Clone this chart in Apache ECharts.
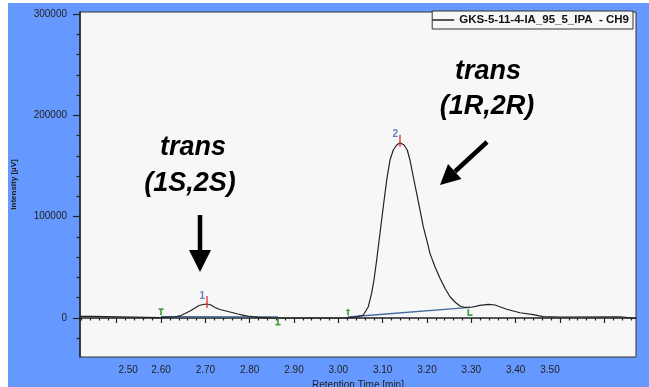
<!DOCTYPE html>
<html><head><meta charset="utf-8">
<script src="https://cdn.jsdelivr.net/npm/echarts@6/dist/echarts.min.js"></script>
<style>
html,body{margin:0;padding:0;background:#fff;}
#bg{position:absolute;left:8px;top:3px;width:641px;height:384px;background:#6699ff;}
#c{position:absolute;left:0;top:0;width:649px;height:387px;}
</style></head><body><div id="bg"></div><div id="c"></div>
<script>
// ---- data ----
const seriesName = 'GKS-5-11-4-IA_95_5_IPA  - CH9';
const retentionTime = [2.4172,2.4443,2.4465,2.5977,2.6315,2.6428,2.6541,2.6654,2.6766,2.6857,2.6947,2.7037,2.7127,2.7217,2.7330,2.7466,2.7601,2.7736,2.7872,2.8007,2.8187,2.8458,2.8909,2.9586,3.0150,3.0376,3.0450,3.0563,3.0676,3.0752,3.0804,3.0865,3.0940,3.1014,3.1091,3.1165,3.1240,3.1316,3.1391,3.1481,3.1555,3.1616,3.1691,3.1767,3.1842,3.1916,3.1993,3.2067,3.2180,3.2293,3.2406,3.2519,3.2631,3.2744,3.2857,3.3008,3.3195,3.3383,3.3534,3.3798,3.4098,3.4398,3.4623,3.5000,3.6353,3.6392,3.6715];
const intensity = [1500,1500,0,400,1200,2000,4400,6900,9900,12300,13300,13800,12800,10400,8400,6900,5400,3900,2500,1500,700,200,0,0,200,800,1300,3000,11150,24700,37500,57200,83900,109800,136200,155900,165800,170700,173000,170700,165800,155900,139400,123100,106600,90100,77000,63800,50600,39200,29300,21000,15800,11800,10400,10600,12500,13500,12800,8600,5200,3300,1300,1000,1200,-300,-300];
const baseline1Time = [2.6000, 2.8639];
const baseline1Value = [1300, 1100];
const baseline2Time = [3.0218, 3.2970];
const baseline2Value = [1000, 10400];
const markerTime = [2.6000, 2.8639, 3.0218, 3.2970];
const markerValue = [1300, 1100, 1000, 10400];
const markerKind = ['start', 'end', 'start2', 'end2'];
const peakTime = [2.7037, 3.1391];
const peakValue = [13800, 173000];
const peakLabel = ['1', '2'];
const xTickLabels = [2.50,2.60,2.70,2.80,2.90,3.00,3.10,3.20,3.30,3.40,3.50];
const xMajorTicks = [2.50,2.60,2.70,2.80,2.90,3.00,3.10,3.20,3.30,3.40,3.50,3.60];
const xMinorTicks = [2.42,2.44,2.46,2.48,2.52,2.54,2.56,2.58,2.62,2.64,2.66,2.68,2.72,2.74,2.76,2.78,2.82,2.84,2.86,2.88,2.92,2.94,2.96,2.98,3.02,3.04,3.06,3.08,3.12,3.14,3.16,3.18,3.22,3.24,3.26,3.28,3.32,3.34,3.36,3.38,3.42,3.44,3.46,3.48,3.52,3.54,3.56,3.58,3.62,3.64,3.66];
const yTickLabels = [0,100000,200000,300000];
const yMinorTicks = [-20000,20000,40000,60000,80000,120000,140000,160000,180000,220000,240000,260000,280000];

// ---- chart ----
const FONT = 'Liberation Sans';
const chart = echarts.init(document.getElementById('c'), null, {renderer:'canvas'});
const pair = (a, b) => a.map((t, i) => [t, b[i]]);
const symbolFor = {
  start: {symbol:'path://M0,0H6V2H4V8H2V2H0Z', offset:[0,-5]},
  end: {symbol:'path://M2,0H4V6H6V8H0V6H2Z', offset:[0,5]},
  start2: {symbol:'path://M3,0L6,3H4V8H2V3H0Z', offset:[0,-5]},
  end2: {symbol:'path://M0,0H2V6H6V8H0Z', offset:[0,5]}
};
const xMin = 2.4172, xMax = 3.6715, yMin = -38500, yMax = 302000;
const commonX = {type:'value', min:xMin, max:xMax, gridIndex:0, position:'bottom', splitLine:{show:false}};
const commonY = {type:'value', min:yMin, max:yMax, gridIndex:0, position:'left', splitLine:{show:false}};
const lbl = {fontFamily:FONT, fontSize:10, color:'#222'};

chart.setOption({
  animation:false,
  backgroundColor:'transparent',
  grid:{left:80, right:13, top:12, bottom:30, show:true, backgroundColor:'#f7f7f7', borderColor:'#333', borderWidth:1,
        containLabel:false, outerBoundsMode:'none'},
  legend:{
    data:[seriesName], right:16, top:11, backgroundColor:'#f7f7f7', borderColor:'#333', borderWidth:1,
    padding:[3,4,3,0], itemWidth:22, itemHeight:1.5, icon:'rect', itemGap:0,
    textStyle:{fontFamily:FONT, fontSize:11.5, fontWeight:'bold', color:'#111'}
  },
  xAxis:[
    Object.assign({}, commonX, {
      name:'Retention Time [min]', nameLocation:'middle', nameGap:20,
      nameTextStyle:{fontFamily:FONT, fontSize:10, color:'#222'},
      axisLine:{show:true, lineStyle:{color:'#222', width:1.5}},
      axisTick:{show:true, inside:false, length:5, customValues:xMajorTicks, lineStyle:{color:'#222', width:1.2}},
      axisLabel:Object.assign({show:true, customValues:xTickLabels, margin:8,
        formatter:function(v){const s=v.toFixed(2); if(Math.abs(v-2.5)<1e-6) return '{l|'+s+'}'; if(Math.abs(v-3.5)<1e-6) return '{r|'+s+'}'; return s;},
        rich:{l:Object.assign({padding:[0,0,0,23]}, lbl), r:Object.assign({padding:[0,20,0,0]}, lbl)}}, lbl)
    }),
    Object.assign({}, commonX, {
      axisLine:{show:false},
      axisTick:{show:true, inside:false, length:2.5, customValues:xMinorTicks, lineStyle:{color:'#222', width:1.2}},
      axisLabel:{show:false}
    })
  ],
  yAxis:[
    Object.assign({}, commonY, {
      name:'Intensity [µV]', nameLocation:'middle', nameGap:62, nameRotate:90,
      nameTextStyle:{fontFamily:FONT, fontSize:8, fontWeight:'bold', color:'#222'},
      axisLine:{show:true, lineStyle:{color:'#222', width:1.5}},
      axisTick:{show:true, inside:false, length:7, customValues:yTickLabels, lineStyle:{color:'#222', width:1.2}},
      axisLabel:Object.assign({show:true, customValues:yTickLabels, margin:13, formatter:v=>String(v)}, lbl)
    }),
    Object.assign({}, commonY, {
      axisLine:{show:false},
      axisTick:{show:true, inside:false, length:3.5, customValues:yMinorTicks, lineStyle:{color:'#222', width:1.2}},
      axisLabel:{show:false}
    })
  ],
  series:[
    {name:seriesName, type:'line', xAxisIndex:0, yAxisIndex:0, data:pair(retentionTime, intensity),
     showSymbol:false, symbol:'none', smooth:false, lineStyle:{color:'#222', width:1.2}, itemStyle:{color:'#222'}, z:4},
    {name:'baseline1', type:'line', data:pair(baseline1Time, baseline1Value), symbol:'none', lineStyle:{color:'#41689a', width:1.3}, z:3},
    {name:'baseline2', type:'line', data:pair(baseline2Time, baseline2Value), symbol:'none', lineStyle:{color:'#41689a', width:1.3}, z:3},
    {name:'markers', type:'scatter', z:5,
     data:markerTime.map((t,i)=>({value:[t, markerValue[i]], symbol:symbolFor[markerKind[i]].symbol, symbolOffset:symbolFor[markerKind[i]].offset})),
     symbolSize:[5,7], itemStyle:{color:'#1a8a1a'}},
    {name:'peaks', type:'scatter', z:6,
     data:peakTime.map((t,i)=>({value:[t, peakValue[i]], name:peakLabel[i]})),
     symbol:'rect', symbolSize:[1.5,12], symbolOffset:[0,-2], itemStyle:{color:'#e02020'},
     label:{show:true, position:[-4,0], align:'center', verticalAlign:'middle', formatter:p=>p.name, fontFamily:FONT, fontSize:10, fontWeight:'bold', color:'#3f63b0'}}
  ],
  graphic:[
    {type:'text', x:193, y:148, style:{text:'trans', fontFamily:FONT, fontSize:27, fontWeight:'bold', fontStyle:'italic', fill:'#000', textAlign:'center', textVerticalAlign:'middle'}, z:10},
    {type:'text', x:190, y:184, style:{text:'(1S,2S)', fontFamily:FONT, fontSize:27, fontWeight:'bold', fontStyle:'italic', fill:'#000', textAlign:'center', textVerticalAlign:'middle'}, z:10},
    {type:'line', shape:{x1:200, y1:215, x2:200, y2:252}, style:{stroke:'#000', lineWidth:4.5}, z:10},
    {type:'polygon', shape:{points:[[189,250],[211,250],[200,272]]}, style:{fill:'#000'}, z:10},
    {type:'text', x:488, y:72, style:{text:'trans', fontFamily:FONT, fontSize:27, fontWeight:'bold', fontStyle:'italic', fill:'#000', textAlign:'center', textVerticalAlign:'middle'}, z:10},
    {type:'text', x:487, y:107, style:{text:'(1R,2R)', fontFamily:FONT, fontSize:27, fontWeight:'bold', fontStyle:'italic', fill:'#000', textAlign:'center', textVerticalAlign:'middle'}, z:10},
    {type:'line', shape:{x1:487, y1:142, x2:455, y2:171.5}, style:{stroke:'#000', lineWidth:4.5}, z:10},
    {type:'polygon', shape:{points:[[461.5,178.9],[448,164.1],[440,185]]}, style:{fill:'#000'}, z:10}
  ]
});
</script></body></html>
